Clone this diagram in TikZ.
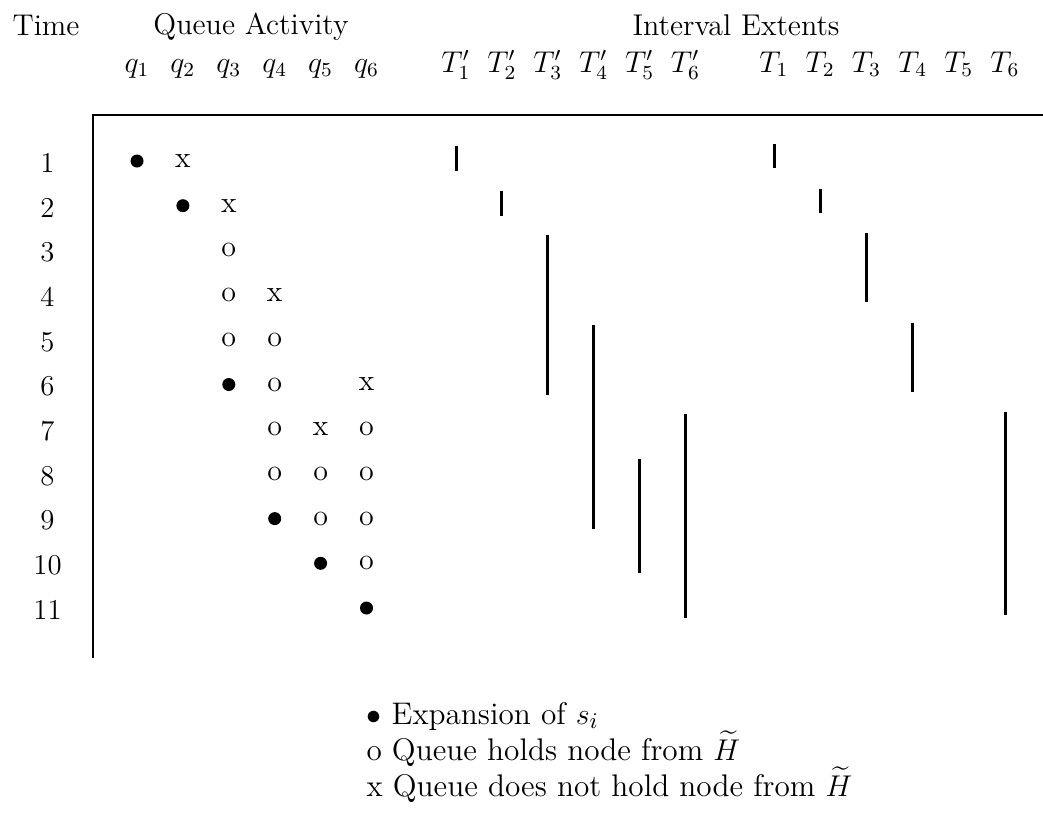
\documentclass[tikz,border=0pt]{standalone}
\usepackage{amsmath}
\begin{document}
\begin{tikzpicture}[x=0.4pt, y=-0.4pt, font=\fontsize{12}{14}\selectfont,
        bar/.style={line width=1.2pt},
        qsym/.style={inner sep=0pt},
        expand/.style={circle, fill, inner sep=0pt, minimum size=5.2pt},
        legend/.style={anchor=base west, inner sep=0pt, font=\fontsize{12.5}{15}\selectfont}]
        \useasboundingbox (0,0) rectangle (1043,822);

        % Headings
        \node[anchor=base] (time) at (46,35) {Time};
        \node[anchor=base] (qact) at (251,34) {Queue Activity};
        \node[anchor=base] (iext) at (736,35) {Interval Extents};

        % Column labels
        \foreach \i in {1,...,6} {
                \node[anchor=base] (q\i) at ({137+45.9*(\i-1)},72) {$q_{\i}$};
                \node[anchor=base] (Tp\i) at ({456+45.9*(\i-1)},72) {$T'_{\i}$};
                \node[anchor=base] (T\i) at ({774+46.2*(\i-1)},72) {$T_{\i}$};
            }

        % Frame
        \draw[line width=1pt] (92,115) -- (1043,115);
        \draw[line width=1pt] (93,115) -- (93,658);

        % Time labels
        \foreach \r in {1,...,11} {
                \node[font=\fontsize{11.5}{14}\selectfont] (t\r) at (47.5, {163+44.7*(\r-1)}) {\r};
            }

        % Queue activity: o and x
        \foreach \r/\c/\s in {1/2/x, 2/3/x, 3/3/o, 4/3/o, 4/4/x, 5/3/o, 5/4/o,
                6/4/o, 6/6/x, 7/4/o, 7/5/x, 7/6/o, 8/4/o, 8/5/o, 8/6/o,
                9/5/o, 9/6/o, 10/6/o} {
                \node[qsym] (m\r-\c) at ({137+45.9*(\c-1)}, {161+44.7*(\r-1)}) {\s};
            }

        % Queue activity: expansions
        \foreach \r/\c in {1/1, 2/2, 6/3, 9/4, 10/5, 11/6} {
                \node[expand] (m\r-\c) at ({137+45.9*(\c-1)}, {161+44.7*(\r-1)}) {};
            }

        % Interval extents T'
        \foreach \c/\a/\b in {1/1/1, 2/2/2, 3/3/6, 4/5/9, 5/8/10, 6/7/11} {
                \draw[bar] ({456+45.9*(\c-1)}, {163+44.7*(\a-1)-17}) -- ({456+45.9*(\c-1)}, {163+44.7*(\b-1)+8});
            }

        % Interval extents T
        \foreach \c/\a/\b in {1/1/1, 2/2/2, 3/3/4, 4/5/6, 6/7/11} {
                \draw[bar] ({774+46.2*(\c-1)}, {163+44.7*(\a-1)-19}) -- ({774+46.2*(\c-1)}, {163+44.7*(\b-1)+5});
            }

        % Legend
        \node[legend] (leg1) at (366,724) {$\bullet$ Expansion of $s_i$};
        \node[legend] (leg2) at (366,760) {o Queue holds node from $\widetilde{H}$};
        \node[legend] (leg3) at (366,796) {x Queue does not hold node from $\widetilde{H}$};
    \end{tikzpicture}
\end{document}
